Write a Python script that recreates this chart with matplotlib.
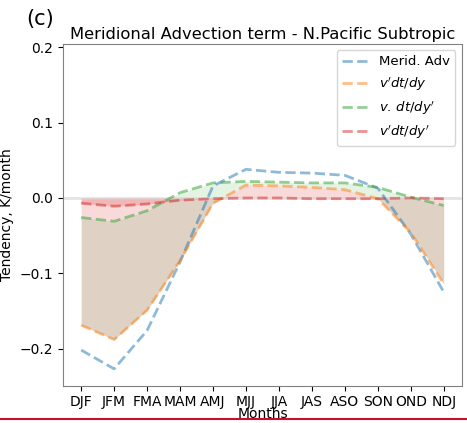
import numpy as np
import matplotlib
matplotlib.use('Agg')
import matplotlib.pyplot as plt
from matplotlib.lines import Line2D

months = ['DJF', 'JFM', 'FMA', 'MAM', 'AMJ', 'MJJ', 'JJA', 'JAS', 'ASO', 'SON', 'OND', 'NDJ']
merid_adv = [-0.202, -0.227, -0.176, -0.085, 0.016, 0.038, 0.034, 0.033, 0.030, 0.013, -0.048, -0.125]
vp_dtdy = [-0.169, -0.188, -0.149, -0.083, -0.007, 0.017, 0.016, 0.014, 0.011, -0.001, -0.046, -0.114]
vbar_dtpdy = [-0.026, -0.031, -0.017, 0.007, 0.020, 0.022, 0.021, 0.020, 0.020, 0.014, 0.001, -0.010]
vp_dtpdy = [-0.007, -0.011, -0.008, -0.003, -0.001, 0.000, 0.000, -0.001, -0.001, -0.001, 0.000, -0.001]

x = np.arange(len(months))

fig = plt.figure(figsize=(4.67, 4.23), dpi=100)
ax = fig.add_axes([0.135, 0.087, 0.854, 0.81])

ax.axhline(0, color='lightgray', lw=2, alpha=0.6)
ax.plot(x, merid_adv, '--', color='C0', lw=2, alpha=0.5, label='Merid. Adv')
ax.plot(x, vp_dtdy, '--', color='C1', lw=2, alpha=0.5, label="$v'dt/dy$")
ax.plot(x, vbar_dtpdy, '--', color='C2', lw=2, alpha=0.5, label="$v.\\,dt/dy'$")
ax.plot(x, vp_dtpdy, '--', color='C3', lw=2, alpha=0.5, label="$v'dt/dy'$")

ax.fill_between(x, 0, vp_dtdy, color='C3', alpha=0.17, lw=0)
ax.fill_between(x, vp_dtdy, vbar_dtpdy, color='C2', alpha=0.12, lw=0)
ax.fill_between(x, 0, vp_dtpdy, color='C3', alpha=0.2, lw=0)

ax.set_xticks(x)
ax.set_xticklabels(months, fontsize=10)
ax.set_yticks([-0.2, -0.1, 0.0, 0.1, 0.2])
ax.tick_params(axis='y', labelsize=10)
ax.tick_params(axis='x', pad=2.5)
ax.set_ylim(-0.25, 0.205)
ax.set_xlim(-0.55, 11.55)
ax.set_xlabel('Months', fontsize=10, labelpad=-1)
ax.set_ylabel('Tendency, K/month', fontsize=10)
ax.set_title('Meridional Advection term - N.Pacific Subtropic', fontsize=11.8, pad=3)
for s in ax.spines.values():
    s.set_color('gray')
ax.legend(loc='upper right', fontsize=9.5)

fig.text(0.057, 0.94, '(c)', fontsize=15)
fig.add_artist(Line2D([0, 1], [0.009, 0.009], color='#c8102e', lw=1.5, transform=fig.transFigure))

fig.savefig('out.png', dpi=100)
